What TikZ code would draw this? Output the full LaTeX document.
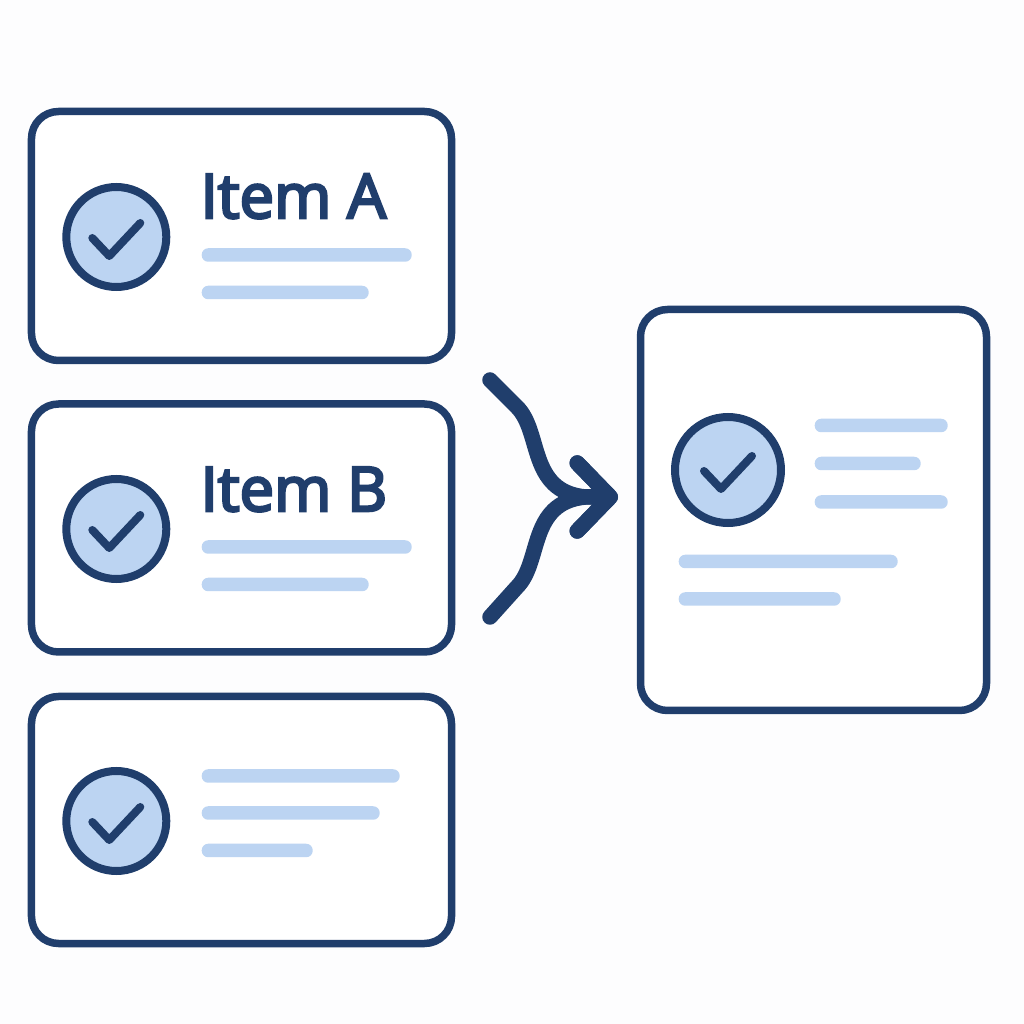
\documentclass[tikz,border=0pt]{standalone}
\usepackage{fontspec}
\setmainfont{Open Sans}
\newfontfamily\itemfont[FakeBold=4.2]{Open Sans}
\usetikzlibrary{arrows.meta}
\definecolor{navy1}{RGB}{32, 62, 108}
\definecolor{barblue}{RGB}{188, 212, 242}
\definecolor{pagebg}{RGB}{253, 253, 254}
\tikzset{
  cardbox/.style={draw=navy1, line width=0.075cm, fill=white, rounded corners=0.27cm, inner sep=0pt},
  badge/.style={circle, draw=navy1, line width=0.08cm, fill=barblue, inner sep=0pt, minimum size=1cm},
  tick/.style={draw=navy1, line width=0.08cm, line cap=round, line join=round},
  barbox/.style={fill=barblue, rounded corners=0.065cm, minimum height=0.135cm, inner sep=0pt, anchor=west},
  itemlabel/.style={text=navy1, anchor=base west, inner sep=0pt, font=\fontsize{17.5}{20}\itemfont},
  flowline/.style={draw=navy1, line width=0.155cm, line cap=round, line join=miter,
    -{Straight Barb[length=0.33cm, width=0.68cm, line width=0.155cm, round]}},
}
\begin{document}
\begin{tikzpicture}
  \useasboundingbox[fill=pagebg] (0, 0) rectangle (10.24, 10.24);

  % cards
  \node[cardbox, minimum width=4.2cm, minimum height=2.49cm] (carda) at (2.415, 7.88) {};
  \node[cardbox, minimum width=4.2cm, minimum height=2.48cm] (cardb) at (2.415, 4.96) {};
  \node[cardbox, minimum width=4.2cm, minimum height=2.47cm] (cardc) at (2.415, 2.04) {};
  \node[cardbox, minimum width=3.46cm, minimum height=4.01cm] (result) at (8.135, 5.14) {};

  % badges with their ticks
  \node[badge] (badgea) at (1.163, 7.87) {};
  \node[badge] (badgeb) at (1.163, 4.95) {};
  \node[badge] (badgec) at (1.163, 2.03) {};
  \node[badge, minimum size=1.06cm] (badger) at (7.28, 5.54) {};
  \foreach \nm in {a, b, c, r} {
    \draw[tick] (badge\nm.center) ++(-0.24, -0.01) -- ++(0.17, -0.18) -- ++(0.31, 0.33);
  }

  % labels
  \node[itemlabel] (itema) at (2.0, 8.06) {Item A};
  \node[itemlabel] (itemb) at (2.0, 5.13) {Item B};

  % text bars
  \node[barbox, minimum width=2.1cm] (bara1) at (2.01, 7.69) {};
  \node[barbox, minimum width=1.67cm] (bara2) at (2.01, 7.315) {};
  \node[barbox, minimum width=2.1cm] (barb1) at (2.01, 4.77) {};
  \node[barbox, minimum width=1.67cm] (barb2) at (2.01, 4.395) {};
  \node[barbox, minimum width=1.98cm] (barc1) at (2.01, 2.48) {};
  \node[barbox, minimum width=1.78cm] (barc2) at (2.01, 2.11) {};
  \node[barbox, minimum width=1.11cm] (barc3) at (2.01, 1.735) {};
  \node[barbox, minimum width=1.33cm] (barr1) at (8.14, 5.985) {};
  \node[barbox, minimum width=1.06cm] (barr2) at (8.14, 5.605) {};
  \node[barbox, minimum width=1.33cm] (barr3) at (8.14, 5.22) {};
  \node[barbox, minimum width=2.19cm] (barr4) at (6.78, 4.625) {};
  \node[barbox, minimum width=1.62cm] (barr5) at (6.78, 4.25) {};

  % merging arrow
  \coordinate (fromtop) at (4.9, 6.44);
  \coordinate (frombot) at (4.9, 4.07);
  \coordinate (mergept) at (6.18, 5.27);
  \draw[flowline] (fromtop) -- (5.17, 6.17) .. controls (5.42, 5.92) and (5.28, 5.33) .. (5.85, 5.27) -- (mergept);
  \draw[flowline] (frombot) -- (5.17, 4.37) .. controls (5.42, 4.62) and (5.28, 5.21) .. (5.85, 5.27) -- (mergept);
\end{tikzpicture}
\end{document}
